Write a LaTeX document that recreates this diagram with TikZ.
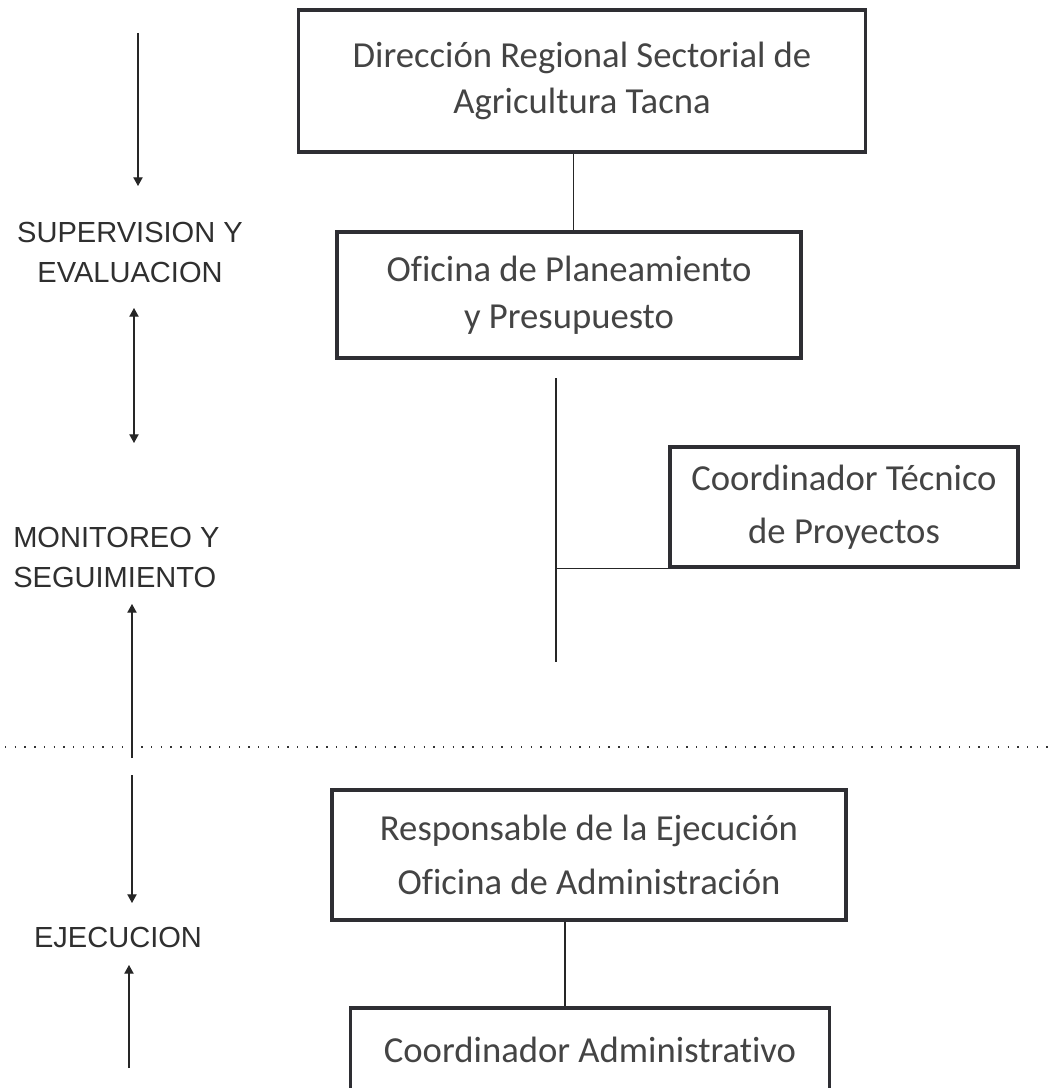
\documentclass[tikz,border=0pt]{standalone}
\usepackage{fontspec}
\setmainfont{Carlito}[Ligatures=CommonOff]
\newfontfamily\labfont{Liberation Sans}
\usetikzlibrary{arrows.meta}
\definecolor{boxline}{HTML}{2E2E33}
\definecolor{boxtext}{HTML}{444444}
\definecolor{labtext}{HTML}{2F2F2F}
\tikzset{
  orgbox/.style={draw=boxline, line width=2.3pt, inner sep=0pt, align=center,
    text=boxtext, font=\fontsize{27.5}{35}\selectfont},
  widebox/.style={orgbox, font=\fontsize{27.5}{40}\selectfont},
  levellabel/.style={text=labtext, inner sep=0pt, font=\labfont\fontsize{21.8}{30}\selectfont},
  conn/.style={line width=0.8pt, draw=black!85},
  sidearrow/.style={line width=0.8pt, draw=black!85, -{Triangle[length=6.5pt,width=7pt]}},
  sidearrowboth/.style={line width=0.8pt, draw=black!85, {Triangle[length=6.5pt,width=7pt]}-{Triangle[length=6.5pt,width=7pt]}},
  sep/.style={line width=1pt, draw=black!80, dash pattern=on 1pt off 6.3pt}
}
\begin{document}
\begin{tikzpicture}[x=0.75pt,y=-0.75pt]
\useasboundingbox (0,0) rectangle (1053,1088);
\clip (0,0) rectangle (1053,1088);
% boxes
\node[orgbox, minimum width=425pt, minimum height=106.5pt] (b1) at (582,81)
  {Dirección Regional Sectorial de\\Agricultura Tacna};
\node[orgbox, minimum width=348pt, minimum height=94.5pt] (b2) at (569,295)
  {Oficina de Planeamiento\\y Presupuesto};
\node[widebox, minimum width=261pt, minimum height=90pt] (b3) at (844,507)
  {Coordinador Técnico\\de Proyectos};
\node[widebox, minimum width=385.5pt, minimum height=97.5pt] (b4) at (589,855)
  {Responsable de la Ejecución\\Oficina de Administración};
\node[orgbox, minimum width=359pt, minimum height=63pt] (b5) at (590,1050)
  {Coordinador Administrativo};
% connectors
\draw[conn] ([xshift=-6.5pt]b1.south) -- ([xshift=-6.5pt]b1.south |- b2.north);
\coordinate (v1) at (556,378);
\coordinate (v2) at (556,662);
\draw[conn] (v1) -- (v2);
\draw[conn] (v1 |- b3.south west) -- (b3.south west);
\draw[conn] ([xshift=-18pt]b4.south) -- ([xshift=-18pt]b4.south |- b5.north);
% separator
\coordinate (d1) at (5,747);
\coordinate (d2) at (1053,747);
\draw[sep] (d1) -- (d2);
% level labels
\node[levellabel, align=center] (l1) at (130,252) {SUPERVISION Y\\EVALUACION};
\node[levellabel, align=left, anchor=west] (l2) at (13,557) {MONITOREO Y\\SEGUIMIENTO};
\node[levellabel] (l3) at (118,937) {EJECUCION};
% side arrows
\coordinate (a1s) at (138,33);  \coordinate (a1e) at (138,186);
\coordinate (a2s) at (134,308); \coordinate (a2e) at (134,443);
\coordinate (a3s) at (132,758); \coordinate (a3e) at (132,604);
\coordinate (a4s) at (132,775); \coordinate (a4e) at (132,903);
\coordinate (a5s) at (129,1068);\coordinate (a5e) at (129,965);
\draw[sidearrow] (a1s) -- (a1e);
\draw[sidearrowboth] (a2s) -- (a2e);
\draw[sidearrow] (a3s) -- (a3e);
\draw[sidearrow] (a4s) -- (a4e);
\draw[sidearrow] (a5s) -- (a5e);
\end{tikzpicture}
\end{document}
